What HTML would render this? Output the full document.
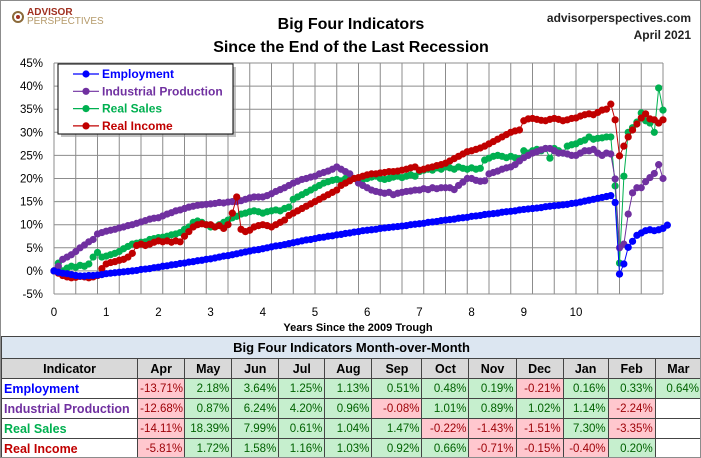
<!DOCTYPE html>
<html><head><meta charset="utf-8">
<style>
body{margin:0;background:#fff;font-family:"Liberation Sans",sans-serif;}
#wrap{position:relative;width:699px;height:456px;border:1px solid #8c8c8c;overflow:hidden;}
svg{position:absolute;left:0;top:0;}
table{position:absolute;left:0;top:335px;border-collapse:collapse;table-layout:fixed;width:701px;font-family:"Liberation Sans",sans-serif;}
td{border:1px solid #444;padding:0 2px;height:19px;font-size:11.5px;text-align:right;white-space:nowrap;overflow:hidden;}
td.g{background:#c6efce;color:#006100;}
td.r{background:#ffc7ce;color:#9c0006;}
td.e{background:#fff;}
tr.t td{background:#dce6f1;text-align:center;font-weight:bold;font-size:13px;height:21px;}
tr.h td{background:#d9d9d9;text-align:center;font-weight:bold;font-size:12.5px;}
td.n{text-align:left;font-weight:bold;font-size:12.5px;background:#fff;}
</style></head><body>
<div id="wrap">
<svg id="chart" width="701" height="335">
  <g>
    <circle cx="17" cy="16" r="5" fill="none" stroke="#8b6a3a" stroke-width="2"/>
    <circle cx="17" cy="16" r="2" fill="#a03020"/>
    <text x="26" y="14" font-size="10" font-weight="bold" fill="#a03020">ADVISOR</text>
    <text x="26" y="23" font-size="10" fill="#b59a6a">PERSPECTIVES</text>
  </g>
  <text x="350" y="28" text-anchor="middle" font-size="16" font-weight="bold">Big Four Indicators</text>
  <text x="350" y="51" text-anchor="middle" font-size="16" font-weight="bold">Since the End of the Last Recession</text>
  <text x="690" y="21" text-anchor="end" font-size="12" font-weight="bold" fill="#222">advisorperspectives.com</text>
  <text x="690" y="38" text-anchor="end" font-size="12" font-weight="bold" fill="#222">April 2021</text>
  <g id="grid"></g>
  <g id="series"></g>
  <g id="legend"></g>
  <text x="357" y="330" text-anchor="middle" font-size="11" font-weight="bold">Years Since the 2009 Trough</text>
</svg>
<table>
<colgroup><col style="width:136px"><col style="width:47px"><col style="width:47px"><col style="width:47px"><col style="width:46px"><col style="width:47px"><col style="width:50px"><col style="width:47px"><col style="width:47px"><col style="width:47px"><col style="width:45px"><col style="width:47px"><col style="width:46px"></colgroup>
<tr class="t"><td colspan="13">Big Four Indicators Month-over-Month</td></tr>
<tr class="h"><td>Indicator</td><td>Apr</td><td>May</td><td>Jun</td><td>Jul</td><td>Aug</td><td>Sep</td><td>Oct</td><td>Nov</td><td>Dec</td><td>Jan</td><td>Feb</td><td>Mar</td></tr>
<tr><td class="n" style="color:#0000ff">Employment</td><td class="r">-13.71%</td><td class="g">2.18%</td><td class="g">3.64%</td><td class="g">1.25%</td><td class="g">1.13%</td><td class="g">0.51%</td><td class="g">0.48%</td><td class="g">0.19%</td><td class="r">-0.21%</td><td class="g">0.16%</td><td class="g">0.33%</td><td class="g">0.64%</td></tr>
<tr><td class="n" style="color:#7030a0">Industrial Production</td><td class="r">-12.68%</td><td class="g">0.87%</td><td class="g">6.24%</td><td class="g">4.20%</td><td class="g">0.96%</td><td class="r">-0.08%</td><td class="g">1.01%</td><td class="g">0.89%</td><td class="g">1.02%</td><td class="g">1.14%</td><td class="r">-2.24%</td><td class="e"></td></tr>
<tr><td class="n" style="color:#00b050">Real Sales</td><td class="r">-14.11%</td><td class="g">18.39%</td><td class="g">7.99%</td><td class="g">0.61%</td><td class="g">1.04%</td><td class="g">1.47%</td><td class="r">-0.22%</td><td class="r">-1.43%</td><td class="r">-1.51%</td><td class="g">7.30%</td><td class="r">-3.35%</td><td class="e"></td></tr>
<tr><td class="n" style="color:#c00000">Real Income</td><td class="r">-5.81%</td><td class="g">1.72%</td><td class="g">1.58%</td><td class="g">1.16%</td><td class="g">1.03%</td><td class="g">0.92%</td><td class="g">0.66%</td><td class="r">-0.71%</td><td class="r">-0.15%</td><td class="r">-0.40%</td><td class="g">0.20%</td><td class="e"></td></tr>
</table>
</div>
<script>
const yTicks=[45,40,35,30,25,20,15,10,5,0,-5];
const xTicks=[0,1,2,3,4,5,6,7,8,9,10];
const seriesNames=["Employment","Industrial Production","Real Sales","Real Income"];
const employment=[0,-0.3,-0.5,-0.6,-0.8,-1.0,-1.1,-1.1,-1.0,-1.0,-0.9,-0.8,
-0.6,-0.5,-0.4,-0.3,-0.2,-0.1,0.0,0.1,0.3,0.4,0.5,0.7,
0.8,1.0,1.1,1.3,1.4,1.6,1.7,1.9,2.0,2.2,2.3,2.5,
2.6,2.8,3.0,3.2,3.3,3.5,3.7,3.9,4.1,4.3,4.5,4.6,
4.8,5.0,5.2,5.4,5.5,5.7,5.9,6.1,6.3,6.5,6.7,6.8,
7.0,7.2,7.3,7.5,7.6,7.8,7.9,8.1,8.2,8.4,8.5,8.7,
8.8,8.9,9.0,9.2,9.3,9.4,9.5,9.6,9.7,9.8,10.0,10.1,
10.2,10.3,10.5,10.6,10.7,10.9,11.0,11.1,11.2,11.4,11.5,11.6,
11.8,11.9,12.0,12.2,12.3,12.4,12.5,12.7,12.8,12.9,13.0,13.2,
13.3,13.4,13.5,13.6,13.7,13.9,14.0,14.1,14.2,14.3,14.4,14.6,
14.7,14.9,15.1,15.3,15.5,15.7,15.9,16.1,16.3,
14.8,-0.7,1.5,5.1,6.4,7.7,8.2,8.7,8.9,8.7,8.9,9.2,9.9];
const industrialProduction=[0,1.0,2.5,3.0,3.5,4.2,5.0,5.6,6.3,6.8,8.0,8.3,
8.6,8.8,9.0,9.3,9.5,9.8,10.0,10.3,10.6,10.9,11.2,11.4,
11.5,11.9,12.3,12.6,13.0,13.2,13.5,13.8,14.0,14.2,14.3,14.4,
14.5,14.6,14.8,14.7,14.9,15.0,15.0,15.2,15.5,15.8,16.0,16.0,
16.0,16.3,16.7,17.2,17.6,18.0,18.5,19.0,19.4,19.8,20.0,20.3,
20.5,21.0,21.3,21.6,22.0,22.5,22.0,21.5,21.0,20.0,19.0,18.5,
18.0,17.5,17.2,17.0,16.8,17.0,16.5,16.8,17.0,17.2,17.3,17.5,
17.5,17.8,17.6,18.0,17.8,18.0,18.0,18.0,17.6,18.5,19.2,20.0,
20.0,19.6,19.4,19.5,21.0,21.3,21.6,22.0,22.3,22.5,23.0,23.8,
24.5,25.0,25.5,25.8,26.2,26.5,26.5,26.0,25.5,25.5,25.3,25.0,
25.0,25.5,26.0,26.0,26.3,25.5,25.0,25.5,25.3,
19.9,5.0,5.8,12.3,16.9,18.0,18.0,19.3,20.2,21.1,23.0,20.0];
const realSales=[0,1.7,0,0.6,1.0,0.8,1.2,1.0,1.5,3.0,4.0,3.0,
3.2,3.5,3.8,4.2,4.8,5.3,5.8,6.0,6.2,6.3,6.8,7.0,
7.2,7.3,7.5,7.8,8.0,8.3,9.0,9.5,10.5,10.8,10.5,10.0,
9.5,9.5,10.0,10.5,11.0,11.5,11.8,12.3,12.5,12.8,13.0,12.8,
12.5,12.8,13.0,13.2,13.0,13.5,13.8,15.5,16.0,16.5,17.0,17.5,
18.0,18.5,19.0,19.3,19.6,19.8,19.5,20.0,20.2,20.0,19.8,19.8,
20.0,20.3,20.5,20.0,19.8,20.0,20.3,20.5,20.2,20.5,20.8,20.5,
21.5,21.8,22.0,21.8,22.3,22.0,22.5,22.3,22.0,22.5,22.2,22.0,
22.3,22.0,22.2,24.0,24.4,24.8,25.0,24.8,24.5,24.8,24.5,24.3,
26.0,25.5,26.0,26.3,26.0,26.5,24.4,26.5,26.0,25.5,27.0,27.3,
27.5,28.0,28.3,29.0,28.5,28.7,28.8,29.0,29.0,
18.4,1.7,20.5,30.0,31.0,32.2,34.2,32.5,32.0,30.0,39.6,34.8];
const realIncome=[0,-0.5,-1.0,-1.3,-1.5,-1.4,-1.2,-1.3,-1.5,-1.3,-1.0,0.5,
1.5,1.8,2.0,2.3,2.5,3.0,3.8,5.5,5.8,5.5,5.8,6.2,
6.5,6.3,6.5,6.2,6.5,6.3,7.5,8.5,9.5,10.0,10.2,10.0,
10.0,9.5,9.8,9.2,10.0,12.5,16.0,9.0,8.5,8.8,9.5,9.8,
10.0,9.8,9.5,10.0,10.5,11.0,12.0,12.5,13.0,13.5,14.0,14.5,
15.0,15.5,16.0,16.5,17.0,17.5,18.5,19.0,19.5,20.0,20.2,20.5,
20.8,21.0,21.0,21.2,21.3,21.5,21.5,21.6,21.8,22.0,22.3,22.5,
21.8,22.0,22.3,22.5,22.8,23.0,23.3,23.8,24.3,24.8,25.3,25.8,
26.0,26.3,26.6,27.0,27.5,28.0,28.5,29.0,29.5,30.0,30.3,30.5,
32.5,32.9,33.0,32.8,32.6,32.5,32.8,33.0,32.8,32.5,32.7,33.0,
33.1,33.5,33.8,34.0,33.8,34.3,34.8,35.0,36.1,
32.7,24.9,27.0,29.0,30.5,31.8,33.1,34.0,32.9,32.7,32.0,32.7];

const NS="http://www.w3.org/2000/svg";
const X0=53,X1=662,Y0=62,Y1=293,YEARPX=52.2;
const xScale=m=>X0+(m/12)*YEARPX;
const yScale=v=>Y0+(45-v)*(Y1-Y0)/50;
function mk(tag,attrs,parent){const e=document.createElementNS(NS,tag);for(const k in attrs)e.setAttribute(k,attrs[k]);parent.appendChild(e);return e;}
const grid=document.getElementById('grid');
for(let i=0;i<=28;i++){const x=X0+i*(X1-X0)/28;
  const l=mk('line',{x1:x,x2:x,y1:Y0,y2:Y1,stroke:'#8c8c8c','stroke-width':1},grid);
  
  }
yTicks.forEach(v=>{const y=yScale(v);
  const l=mk('line',{x1:X0,x2:X1,y1:y,y2:y,stroke:'#8c8c8c','stroke-width':1},grid);
  
  
  const t=mk('text',{x:42,y:y+4,'text-anchor':'end','font-size':11.5},grid);t.textContent=v+'%';
  
  });
xTicks.forEach(v=>{const t=mk('text',{x:xScale(v*12),y:315,'text-anchor':'middle','font-size':11.5},grid);t.textContent=v;
  
  });
const colors=["#0000ff","#7030a0","#00b050","#c00000"];
const data=[employment,industrialProduction,realSales,realIncome];
const slugs=["employment","industrial-production","real-sales","real-income"];
const ser=document.getElementById('series');
[2,1,3,0].forEach(i=>{const g=mk('g',{},ser);
  
  
  const pts=data[i].map((v,m)=>xScale(m).toFixed(1)+','+yScale(v).toFixed(1)).join(' ');
  const pl=mk('polyline',{points:pts,fill:'none',stroke:colors[i],'stroke-width':1},g);
  
  
  data[i].forEach((v,m)=>{const c=mk('circle',{cx:xScale(m),cy:yScale(v),r:3.6,fill:colors[i]},g);
    
    });
});
const lg=document.getElementById('legend');
mk('rect',{x:60,y:66,width:175,height:70,fill:'#999',opacity:0.6},lg);
mk('rect',{x:57,y:63,width:175,height:70,fill:'#fff',stroke:'#000','stroke-width':1},lg);
seriesNames.forEach((n,i)=>{const y=73+i*17.3;
  const g=mk('g',{},lg);
  
  
  mk('line',{x1:72,x2:98,y1:y,y2:y,stroke:colors[i],'stroke-width':1.2},g);
  mk('circle',{cx:85,cy:y,r:3.6,fill:colors[i]},g);
  const t=mk('text',{x:101,y:y+4,'font-size':12,'font-weight':'bold',fill:colors[i]},g);t.textContent=n;});
</script>
</body></html>
